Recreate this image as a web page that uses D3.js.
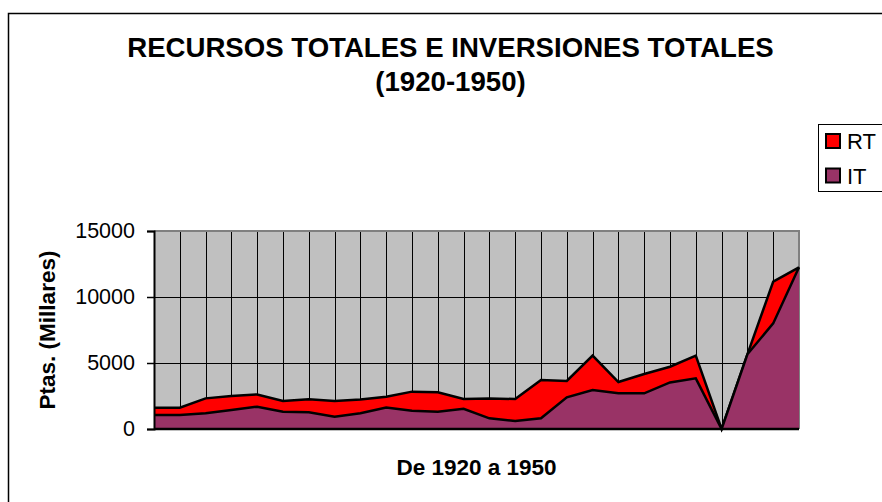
<!DOCTYPE html>
<html>
<head>
<meta charset="utf-8">
<script src="https://cdn.jsdelivr.net/npm/d3@7"></script>
<style>
  body { margin: 0; background: #fff; }
  svg { display: block; font-family: Arial, "Liberation Sans", sans-serif; }
</style>
</head>
<body>
<svg id="chart" width="882" height="502"></svg>
<script>
// Data (26 periods between 1920 and 1950)
const periods = ["1", "2", "3", "4", "5", "6", "7", "8", "9", "10", "11", "12", "13",
                 "14", "15", "16", "17", "18", "19", "20", "21", "22", "23", "24", "25", "26"];
const rtValues = [1615, 1615, 2320, 2500, 2620, 2120, 2250, 2120, 2230, 2450, 2830, 2780, 2270,
                  2320, 2270, 3710, 3640, 5560, 3560, 4170, 4720, 5560, 0, 5660, 11160, 12250];
const itValues = [1060, 1060, 1190, 1440, 1690, 1310, 1260, 930, 1190, 1620, 1390, 1310, 1530,
                  810, 610, 810, 2400, 2950, 2700, 2700, 3530, 3840, 0, 5660, 8000, 12250];
const yTicks = [0, 5000, 10000, 15000];

const series = [
  { name: "RT", values: rtValues, color: "#FF0000" },
  { name: "IT", values: itValues, color: "#993366" }
];

// Layout
const PLOT = { left: 154, right: 799, top: 231, bottom: 429 };

const svg = d3.select("#chart");

// Outer chart border (only top and left visible)
svg.append("rect")
  .attr("x", 8.5).attr("y", 13.5)
  .attr("width", 900).attr("height", 520)
  .attr("fill", "none")
  .attr("stroke", "#000")
  .attr("stroke-width", 1.5);

// Title
const title = svg.append("text")
  .attr("text-anchor", "middle")
  .attr("font-weight", "bold")
  .attr("font-size", 27.6)
  .attr("fill", "#000");
title.append("tspan").attr("x", 450.5).attr("y", 57).text("RECURSOS TOTALES E INVERSIONES TOTALES");
title.append("tspan").attr("x", 450.5).attr("y", 91).text("(1920-1950)");

// Scales
const x = d3.scalePoint().domain(periods).range([PLOT.left, PLOT.right]);
const y = d3.scaleLinear().domain([0, 15000]).range([PLOT.bottom, PLOT.top]);

// Plot background
svg.append("rect")
  .attr("x", PLOT.left).attr("y", PLOT.top)
  .attr("width", PLOT.right - PLOT.left)
  .attr("height", PLOT.bottom - PLOT.top)
  .attr("fill", "#C0C0C0");

// Gridlines
svg.append("g")
  .selectAll("line")
  .data(periods)
  .join("line")
  .attr("x1", d => Math.round(x(d)) + 0.5).attr("x2", d => Math.round(x(d)) + 0.5)
  .attr("y1", PLOT.top).attr("y2", PLOT.bottom)
  .attr("stroke", "#000").attr("stroke-width", 1);

svg.append("g")
  .selectAll("line")
  .data(yTicks.filter(t => t > 0 && t < 15000))
  .join("line")
  .attr("x1", PLOT.left).attr("x2", PLOT.right)
  .attr("y1", d => Math.round(y(d)) + 0.5).attr("y2", d => Math.round(y(d)) + 0.5)
  .attr("stroke", "#000").attr("stroke-width", 1);

// Plot frame top/right in gray
svg.append("path")
  .attr("d", `M${PLOT.left},${PLOT.top}H${PLOT.right}V${PLOT.bottom}`)
  .attr("fill", "none")
  .attr("stroke", "#808080")
  .attr("stroke-width", 2);

// Areas
const area = d3.area()
  .x((d, i) => x(periods[i]))
  .y0(y(0))
  .y1(d => y(d));

const line = d3.line()
  .x((d, i) => x(periods[i]))
  .y(d => y(d));

series.forEach(s => {
  svg.append("path")
    .datum(s.values)
    .attr("d", area)
    .attr("fill", s.color);
  svg.append("path")
    .datum(s.values)
    .attr("d", line)
    .attr("fill", "none")
    .attr("stroke", "#000")
    .attr("stroke-width", 2.5)
    .attr("stroke-linejoin", "miter");
});

// Y axis
const yAxis = svg.append("g")
  .attr("transform", `translate(${PLOT.left},0)`)
  .call(d3.axisLeft(y).tickValues(yTicks).tickSize(7).tickPadding(12).tickFormat(d3.format("d")));
yAxis.select(".domain").attr("stroke", "#000").attr("stroke-width", 2);
yAxis.selectAll(".tick line").attr("stroke", "#000").attr("stroke-width", 1.5);
yAxis.selectAll("text")
  .attr("font-size", 21.5)
  .attr("font-family", "Arial, 'Liberation Sans', sans-serif")
  .attr("fill", "#000");

// X axis line
svg.append("line")
  .attr("x1", PLOT.left).attr("x2", PLOT.right)
  .attr("y1", PLOT.bottom).attr("y2", PLOT.bottom)
  .attr("stroke", "#000").attr("stroke-width", 2.5);

// Axis titles
svg.append("text")
  .attr("x", (PLOT.left + PLOT.right) / 2)
  .attr("y", 475)
  .attr("text-anchor", "middle")
  .attr("font-weight", "bold")
  .attr("font-size", 22.5)
  .text("De 1920 a 1950");

svg.append("text")
  .attr("transform", `translate(55,${(PLOT.top + PLOT.bottom) / 2}) rotate(-90)`)
  .attr("text-anchor", "middle")
  .attr("font-weight", "bold")
  .attr("font-size", 22.5)
  .text("Ptas. (Millares)");

// Legend
const legend = svg.append("g");
legend.append("rect")
  .attr("x", 818.5).attr("y", 124.5)
  .attr("width", 100).attr("height", 67)
  .attr("fill", "#fff")
  .attr("stroke", "#000")
  .attr("stroke-width", 1);

const legendItems = legend.selectAll("g")
  .data(series)
  .join("g")
  .attr("transform", (d, i) => `translate(826,${134 + i * 34.5})`);

legendItems.append("rect")
  .attr("width", 14).attr("height", 14)
  .attr("fill", d => d.color)
  .attr("stroke", "#000")
  .attr("stroke-width", 2);

legendItems.append("text")
  .attr("x", 21)
  .attr("y", 15)
  .attr("font-size", 22)
  .attr("fill", "#000")
  .text(d => d.name);
</script>
</body>
</html>
